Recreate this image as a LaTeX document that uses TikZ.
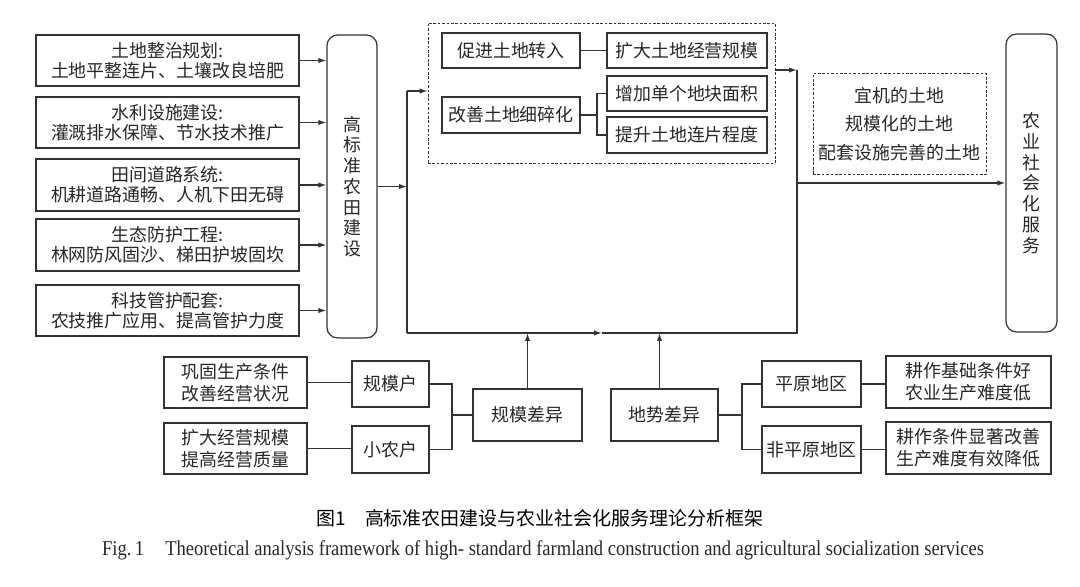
\documentclass[tikz,border=0pt]{standalone}
\usepackage{fontspec}
\setmainfont{Noto Sans CJK SC}
\newfontfamily\engfont[FakeStretch=0.88]{Liberation Serif}
\usetikzlibrary{arrows.meta, positioning}

\begin{document}
\begin{tikzpicture}[x=0.02cm, y=-0.02cm,
  box/.style={rectangle, draw=black!80, line width=0.7pt, inner sep=0pt, align=center, text=black!85, font=\fontsize{10.2pt}{11.4pt}\selectfont},
  bbox/.style={box, font=\fontsize{10.2pt}{12.5pt}\selectfont},
  rbox/.style={box, rounded corners=6pt, font=\fontsize{10.2pt}{11.8pt}\selectfont},
  dbox/.style={box, line width=0.5pt, dash pattern=on 1.5pt off 1pt},
  ln/.style={draw=black!80, line width=0.7pt},
  arr/.style={ln, -{Latex[length=4.5pt, width=3pt]}}
]
  \useasboundingbox (0,0) rectangle (1080,586);

  % left column
  \node[box, minimum width=5.26cm, minimum height=1.02cm] (tdzz) at (167.5,60.5) {土地整治规划:\\土地平整连片、土壤改良培肥};
  \node[box, minimum width=5.26cm, minimum height=1.02cm] (slss) at (167.5,122.5) {水利设施建设:\\灌溉排水保障、节水技术推广};
  \node[box, minimum width=5.26cm, minimum height=1.04cm] (tjdl) at (167.5,185) {田间道路系统:\\机耕道路通畅、人机下田无碍};
  \node[box, minimum width=5.26cm, minimum height=1.04cm] (stfh) at (167.5,245) {生态防护工程:\\林网防风固沙、梯田护坡固坎};
  \node[box, minimum width=5.26cm, minimum height=1.02cm] (kjgh) at (167.5,310.5) {科技管护配套:\\农技推广应用、提高管护力度};
  \node[rbox, minimum width=1cm, minimum height=6.06cm] (gbz) at (352,186.5) {高\\标\\准\\农\\田\\建\\设};
  \foreach \b in {tdzz,slss,tjdl,stfh,kjgh}{\draw[arr] (\b.east) -- (\b.east -| gbz.west);}

  % middle block
  \node[dbox, minimum width=6.94cm, minimum height=2.8cm] (fx) at (601.5,93) {};
  \node[box, minimum width=2.76cm, minimum height=0.7cm] (cj) at (511,50.5) {促进土地转入};
  \node[box, minimum width=3.2cm, minimum height=0.7cm] (kd) at (687,50.5) {扩大土地经营规模};
  \node[box, minimum width=2.76cm, minimum height=0.72cm] (gs) at (511,115) {改善土地细碎化};
  \node[box, minimum width=3.2cm, minimum height=0.7cm] (zj) at (687,93.5) {增加单个地块面积};
  \node[box, minimum width=3.2cm, minimum height=0.72cm] (ts) at (687,135) {提升土地连片程度};
  \coordinate (fz1) at (597,115);
  \draw[ln] (cj) -- (kd);
  \draw[ln] (gs.east) -- (fz1);
  \draw[ln] (zj.west) -| (fz1) |- (ts.west);

  % frame
  \coordinate (lt) at (407,91);
  \coordinate (lb) at (407,333);
  \coordinate (rt) at (797,70);
  \coordinate (rb) at (797,333);
  \coordinate (bm) at (602,333);
  \draw[arr] (gbz.east) -- (gbz.east -| lt);
  \draw[ln] (lt) -- (lb);
  \draw[arr] (lt) -- (lt -| fx.west);
  \draw[arr] (lb) -- (bm);
  \draw[ln] (bm) -- (rb) -- (rt);
  \draw[arr] (fx.east |- rt) -- (rt);

  % right part
  \node[dbox, minimum width=3.46cm, minimum height=2.02cm, font=\fontsize{10.2pt}{16.4pt}\selectfont] (td) at (899.5,124) {宜机的土地\\规模化的土地\\配套设施完善的土地};
  \node[rbox, minimum width=1.02cm, minimum height=5.96cm] (nsh) at (1031.5,183) {农\\业\\社\\会\\化\\服\\务};
  \draw[arr] (nsh.west -| rb) -- (nsh.west);

  % scale difference
  \node[bbox, minimum width=2.86cm, minimum height=1.02cm] (gg) at (235.5,382.5) {巩固生产条件\\改善经营状况};
  \node[bbox, minimum width=2.86cm, minimum height=1.02cm] (kj) at (235.5,448.5) {扩大经营规模\\提高经营质量};
  \node[box, minimum width=1.54cm, minimum height=0.92cm] (gmh) at (390.5,384) {规模户};
  \node[box, minimum width=1.54cm, minimum height=0.94cm] (xnh) at (390.5,449.5) {小农户};
  \node[box, minimum width=2.18cm, minimum height=1.04cm] (gmcy) at (527.5,415) {规模差异};
  \coordinate (fz2) at (452,415);
  \draw[ln] (gg.east) -- (gg.east -| gmh.west);
  \draw[ln] (kj.east) -- (kj.east -| xnh.west);
  \draw[ln] (gmh.east) -| (fz2) |- (xnh.east);
  \draw[ln] (fz2) -- (gmcy.west);
  \draw[arr] (gmcy.north) -- (gmcy.north |- lb);

  % terrain difference
  \node[box, minimum width=2.14cm, minimum height=1.04cm] (dscy) at (664.5,415) {地势差异};
  \node[box, minimum width=1.98cm, minimum height=0.92cm] (py) at (811.5,384) {平原地区};
  \node[box, minimum width=1.98cm, minimum height=0.94cm] (fpy) at (811.5,449.5) {非平原地区};
  \node[bbox, minimum width=3.3cm, minimum height=1.04cm] (pyr) at (968.5,382) {耕作基础条件好\\农业生产难度低};
  \node[bbox, minimum width=3.3cm, minimum height=1.04cm] (fpyr) at (968.5,448) {耕作条件显著改善\\生产难度有效降低};
  \coordinate (fz3) at (742,415);
  \draw[ln] (dscy.east) -- (fz3);
  \draw[ln] (py.west) -| (fz3) |- (fpy.west);
  \draw[ln] (py.east) -- (py.east -| pyr.west);
  \draw[ln] (fpy.east) -- (fpy.east -| fpyr.west);
  \draw[arr] ([xshift=-0.1cm]dscy.north) -- ([xshift=-0.1cm]dscy.north |- lb);

  % caption
  \node[font=\fontsize{10.8pt}{12pt}\selectfont, text=black] (capzh) at (540,518) {图1\quad 高标准农田建设与农业社会化服务理论分析框架};
  \node[font=\engfont\fontsize{12pt}{13pt}\selectfont, text=black!85] (capen) at (543,550) {Fig.\,1\quad Theoretical analysis framework of high- standard farmland construction and agricultural socialization services};
\end{tikzpicture}
\end{document}
